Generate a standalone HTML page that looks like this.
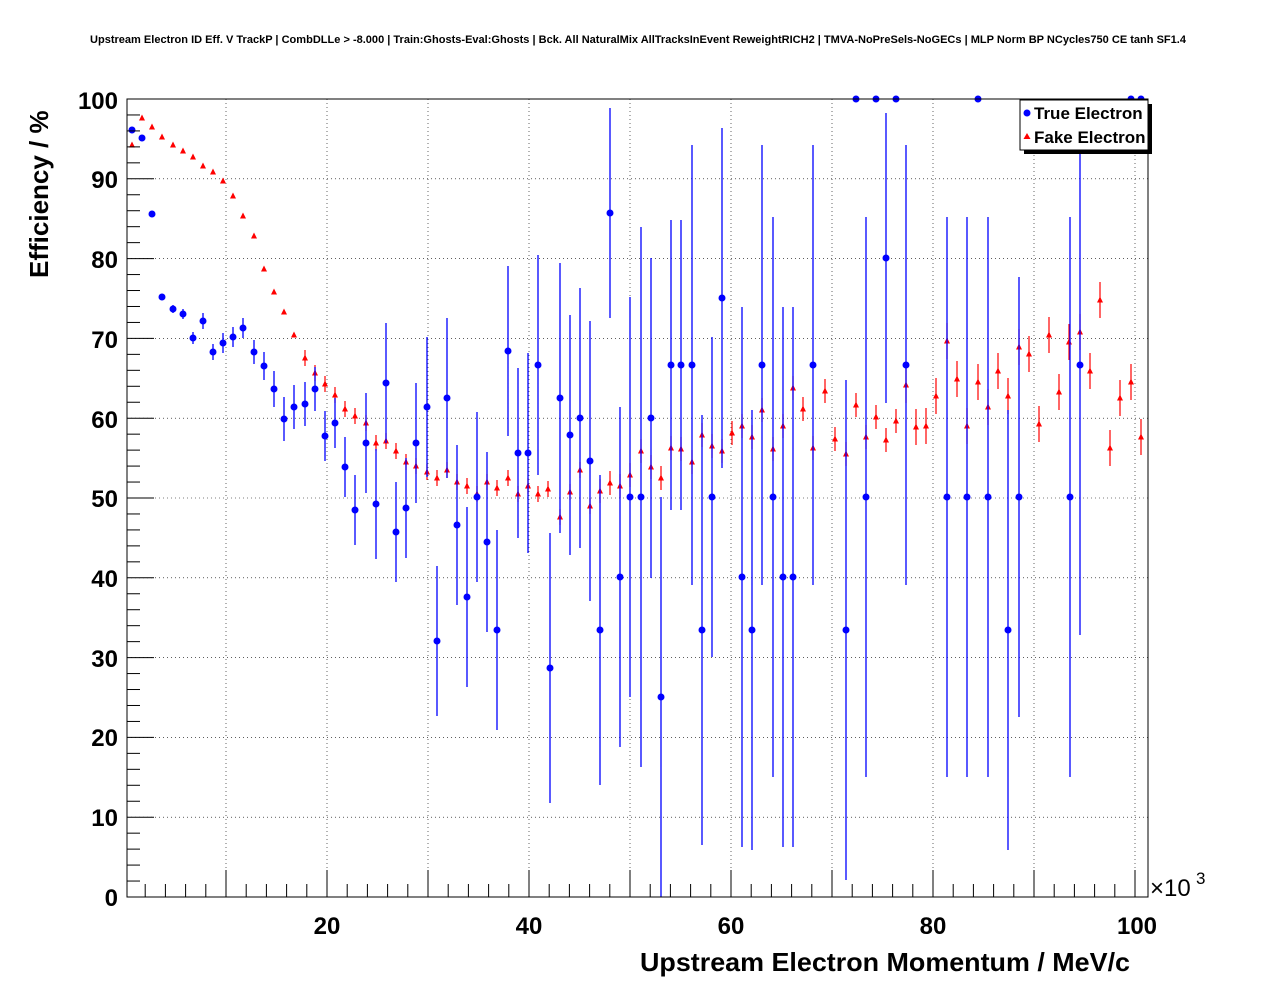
<!DOCTYPE html>
<html><head><meta charset="utf-8"><style>
body{margin:0;background:#fff;}
svg{display:block;font-family:"Liberation Sans",sans-serif;}
</style></head><body>
<svg id="s" width="1276" height="996" xmlns="http://www.w3.org/2000/svg">
<rect width="1276" height="996" fill="#fff"/>
<text x="638" y="43" font-size="11" font-weight="bold" text-anchor="middle" textLength="1096" lengthAdjust="spacingAndGlyphs">Upstream Electron ID Eff. V TrackP | CombDLLe &gt; -8.000 | Train:Ghosts-Eval:Ghosts | Bck. All NaturalMix AllTracksInEvent ReweightRICH2 | TMVA-NoPreSels-NoGECs | MLP Norm BP NCycles750 CE tanh SF1.4</text>
<g id="grid" stroke="#000" stroke-width="0.6" stroke-dasharray="1,3"></g>
<g id="data"></g>
<rect x="127" y="99" width="1021" height="798" fill="none" stroke="#000" stroke-width="1"/>
<g id="ticks" stroke="#000" stroke-width="1"></g>
<g font-size="24" font-weight="bold" text-anchor="end">
<text x="118" y="906">0</text><text x="118" y="826">10</text><text x="118" y="746">20</text><text x="118" y="667">30</text><text x="118" y="587">40</text><text x="118" y="507">50</text><text x="118" y="428">60</text><text x="118" y="348">70</text><text x="118" y="268">80</text><text x="118" y="188">90</text><text x="118" y="109">100</text>
</g>
<g font-size="24" font-weight="bold" text-anchor="middle">
<text x="327" y="934">20</text><text x="529" y="934">40</text><text x="731" y="934">60</text><text x="933" y="934">80</text><text x="1137" y="934">100</text>
</g>
<text x="1150" y="896" font-size="24">×10</text><text x="1196" y="884" font-size="17">3</text>
<text x="1130" y="971" font-size="26" font-weight="bold" text-anchor="end" textLength="490" lengthAdjust="spacingAndGlyphs">Upstream Electron Momentum / MeV/c</text>
<text transform="translate(48,278) rotate(-90)" font-size="26" font-weight="bold">Efficiency / %</text>
<rect x="1024" y="104" width="128" height="50" fill="#000"/>
<rect x="1020" y="100" width="128" height="50" fill="#fff" stroke="#000"/>
<circle cx="1027" cy="113" r="3.5" fill="#00f"/>
<polygon points="1027,133 1023.5,139 1030.5,139" fill="#f00"/>
<text x="1034" y="119" font-size="17" font-weight="bold">True Electron</text>
<text x="1034" y="143" font-size="17" font-weight="bold">Fake Electron</text>
</svg>
<script>
const NS="http://www.w3.org/2000/svg";
function el(p,t,a){const e=document.createElementNS(NS,t);for(const k in a)e.setAttribute(k,a[k]);p.appendChild(e);return e;}
const g=document.getElementById('grid'),tk=document.getElementById('ticks'),d=document.getElementById('data');
for(let i=1;i<=10;i++){const y=897-i*79.8;el(g,'line',{x1:127,x2:1148,y1:y,y2:y});}
for(let v=10;v<=100;v+=10){const x=125+v*10.1;el(g,'line',{x1:x,x2:x,y1:99,y2:897});}
for(let i=0;i<=100;i+=2){const y=897-i*7.98;el(tk,'line',{x1:127,x2:127+(i%10?13:27),y1:y,y2:y});}
for(let v=2;v<=100;v+=2){const x=125+v*10.1;if(x<128)continue;el(tk,'line',{x1:x,x2:x,y1:897,y2:897-(v%10?13:27)});}
const R=[[132,145],[142,118],[152,127],[162,137],[173,145],[183,151],[193,157],[203,166],[213,172],[223,181],[233,196],[243,216],[254,236],[264,269],[274,292],[284,312],[294,335],[305,358],[315,373],[325,384],[335,395],[345,409],[355,416],[366,423],[376,443],[386,441],[396,451],[406,462],[416,466],[427,472],[437,478],[447,470],[457,482],[467,486],[477,494],[487,482],[497,488],[508,478],[518,494],[528,486],[538,494],[548,489],[560,517],[570,492],[580,470],[590,506],[600,491],[610,483],[620,486],[630,475],[641,451],[651,467],[661,478],[671,448],[681,449],[692,462],[702,435],[712,446],[722,451],[732,433],[742,426],[752,437],[762,410],[773,449],[783,426],[793,388],[803,409],[813,448],[825,391],[835,439],[846,454],[856,405],[866,437],[876,417],[886,440],[896,421],[906,385],[916,427],[926,426],[936,396],[947,341],[957,379],[967,426],[978,382],[988,407],[998,371],[1008,396],[1019,347],[1029,354],[1039,424],[1049,335],[1059,392],[1069,342],[1080,332],[1090,371],[1100,300],[1110,448],[1120,398],[1131,382],[1141,437]];
const B=[[132,130,3],[142,138,3],[152,214,3],[162,297,3],[173,309,4],[183,314,5],[193,338,6],[203,321,8],[213,352,8],[223,343,10],[233,337,10],[243,328,10],[254,352,12],[264,366,14],[274,389,18],[284,419,22],[294,407,22],[305,404,22],[315,389,22],[325,436,25],[335,423,25],[345,467,30],[355,510,35],[366,443,50],[376,504,55],[386,383,60],[396,532,50],[406,508,50],[416,443,60],[427,407,70],[437,641,75],[447,398,80],[457,525,80],[467,597,90],[477,497,85],[487,542,90],[497,630,100],[508,351,85],[518,453,85],[528,453,100],[538,365,110],[550,668,135],[560,398,135],[570,435,120],[580,418,130],[590,461,140],[600,630,155],[610,213,105],[620,577,170],[630,497,200],[641,497,270],[651,418,160],[661,697,200],[671,365,145],[681,365,145],[692,365,220],[702,630,215],[712,497,160],[722,298,170],[742,577,270],[752,630,220],[762,365,220],[773,497,280],[783,577,270],[793,577,270],[813,365,220],[846,630,250],[856,99,0],[866,497,280],[876,99,0],[886,258,145],[896,99,0],[906,365,220],[947,497,280],[967,497,280],[978,99,0],[988,497,280],[1008,630,220],[1019,497,220],[1070,497,280],[1080,365,270],[1131,99,0],[1141,99,0]];
R.forEach((p,i)=>{const e=p[0]<300?2:(p[0]<600?8:(p[0]<900?12:18));
 if(e>2)el(d,'line',{x1:p[0],x2:p[0],y1:p[1]-e,y2:p[1]+e,stroke:'#f00','stroke-width':1.2});
 el(d,'polygon',{points:`${p[0]},${p[1]-3.5} ${p[0]-3},${p[1]+2.5} ${p[0]+3},${p[1]+2.5}`,fill:'#f00'});});
B.forEach(p=>{const e=p[2];if(e>3)el(d,'line',{x1:p[0],x2:p[0],y1:Math.max(99,p[1]-e),y2:Math.min(897,p[1]+e),stroke:'#00f','stroke-width':1.3});
 el(d,'circle',{cx:p[0],cy:p[1],r:3.5,fill:'#00f'});});
</script>
</body></html>
